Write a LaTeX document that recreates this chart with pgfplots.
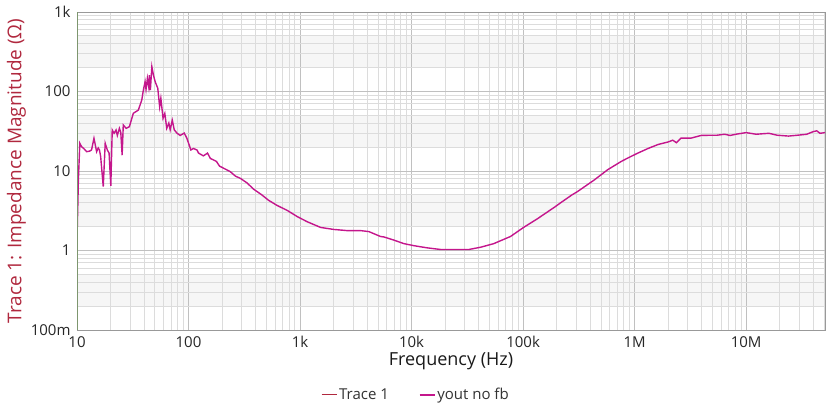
\documentclass[border=0pt]{standalone}
\usepackage{fontspec}
\setmainfont{Open Sans}
\usepackage{pgfplots}
\pgfplotsset{compat=1.18}

\definecolor{trace}{RGB}{196,22,140}
\definecolor{tracered}{RGB}{176,40,62}
\definecolor{bandgray}{RGB}{246,246,246}
\definecolor{majgrid}{RGB}{192,192,192}
\definecolor{mingrid}{RGB}{220,220,220}
\definecolor{leftax}{RGB}{125,150,110}

\begin{document}
\begin{tikzpicture}
\begin{axis}[
    set layers,
    xmode=log, ymode=log,
    scale only axis, width=748pt, height=318pt,
    xmin=10, xmax=5.1e7, ymin=0.1, ymax=1000,
    xtick={10,100,1000,10000,100000,1000000,10000000},
    xticklabels={10,100,1k,10k,100k,1M,10M},
    minor xtick={20,30,40,50,60,70,80,90,
        200,300,400,500,600,700,800,900,
        2000,3000,4000,5000,6000,7000,8000,9000,
        20000,30000,40000,50000,60000,70000,80000,90000,
        200000,300000,400000,500000,600000,700000,800000,900000,
        2000000,3000000,4000000,5000000,6000000,7000000,8000000,9000000,
        20000000,30000000,40000000,50000000},
    ytick={0.1,1,10,100,1000},
    yticklabels={100m,1,10,100,1k},
    grid=both,
    major grid style={majgrid, line width=0.9pt},
    minor grid style={mingrid, line width=0.9pt},
    major tick length=0pt, minor tick length=0pt,
    axis line style={draw=black!40},
    tick label style={font=\fontsize{15}{18}\selectfont, text=black!85},
    xticklabel style={yshift=-3pt},
    yticklabel style={xshift=-3pt},
    xlabel={Frequency (Hz)},
    xlabel style={font=\fontsize{18}{21}\selectfont, text=black!90,
        at={(axis description cs:0.5,-0.099)}, anchor=center},
    ylabel={Trace 1: Impedance Magnitude (Ω)},
    ylabel style={font=\fontsize{19}{22}\selectfont, text=tracered,
        at={(axis description cs:-0.081,0.5)}, anchor=center},
    legend columns=2,
    legend style={at={(axis description cs:0.453,-0.204)}, anchor=center,
        draw=none, fill=none, font=\fontsize{15}{17}\selectfont, text=black!80,
        /tikz/every even column/.append style={column sep=28pt}},
    legend image code/.code={\draw[#1] (0pt,0pt) -- (15pt,0pt);},
]
\begin{pgfonlayer}{axis background}
\fill[bandgray] (axis cs:10,0.2) rectangle (axis cs:5.1e7,0.5);
\fill[bandgray] (axis cs:10,2) rectangle (axis cs:5.1e7,5);
\fill[bandgray] (axis cs:10,20) rectangle (axis cs:5.1e7,50);
\fill[bandgray] (axis cs:10,200) rectangle (axis cs:5.1e7,500);
\end{pgfonlayer}

\addlegendimage{tracered, line width=1.2pt}
\addlegendentry{Trace 1}

\addplot[trace, line width=1.4pt] table {
f Z
10.05 1.85
10.3 8
10.6 22.3
11.0 20.2
11.5 19.2
12.2 17.5
13.0 17.8
13.5 18.4
14.2 25.8
15.0 17.5
15.5 19.5
15.9 18.4
16.3 15.2
17.2 6.35
17.9 22.3
18.7 18.4
19.4 16.8
20.1 6.5
20.7 32.8
21.5 29.8
22.4 32.8
23.0 28.0
24.0 34.4
24.7 30.5
25.4 15.8
26.0 37.9
27.6 34.4
29.5 36.1
32.0 53.2
35.5 58.4
38.1 78.2
39.4 104.7
40.8 132.8
41.6 106
42.8 146.5
44.0 114
44.6 161
45.5 104
46.9 205
48.5 161
50.2 133
53.0 110
55.1 64.5
56.5 82
59.1 46
61.3 53
63.8 34.4
66.6 40
68.5 33
71.5 43.6
74.5 33
78.6 30
84.2 28
91.5 30
96.6 25.9
105 18.4
110.7 19.2
119 18.4
123 16.8
136 15.5
148 16.8
157 14.4
167 13.8
178 13.2
190 11.5
213 10.6
237 9.8
264 8.6
291 8.1
334 7.1
384 5.9
455 5.0
520 4.3
620 3.7
766 3.2
944 2.67
1160 2.3
1530 1.95
2010 1.84
2640 1.78
3480 1.78
4140 1.73
5270 1.50
5660 1.48
6960 1.35
8540 1.22
10500 1.15
13800 1.08
18200 1.03
23900 1.03
32700 1.03
41700 1.10
54600 1.22
77100 1.50
101000 1.95
134000 2.5
191000 3.5
218000 4.0
274000 5.0
307000 5.5
434000 7.7
575000 10.4
760000 13.2
872000 14.6
1070000 16.8
1320000 19.2
1630000 21.6
2000000 23.2
2200000 24.4
2370000 22.7
2600000 25.9
3200000 25.9
3950000 28.0
4900000 28.2
5500000 28.2
6400000 29.0
7200000 28.0
8100000 29.0
10000000 30.4
12300000 29.0
16000000 29.8
19000000 28.2
24000000 27.5
29000000 28.2
35000000 29.0
40000000 31.3
43000000 32.0
46000000 29.8
51000000 30.4
};
\addlegendentry{yout no fb}

\draw[leftax, line width=1pt] (rel axis cs:0,0) -- (rel axis cs:0,1);
\end{axis}
\pgfresetboundingbox
\path (-77pt,-77pt) rectangle (749pt,330pt);
\end{tikzpicture}
\end{document}
